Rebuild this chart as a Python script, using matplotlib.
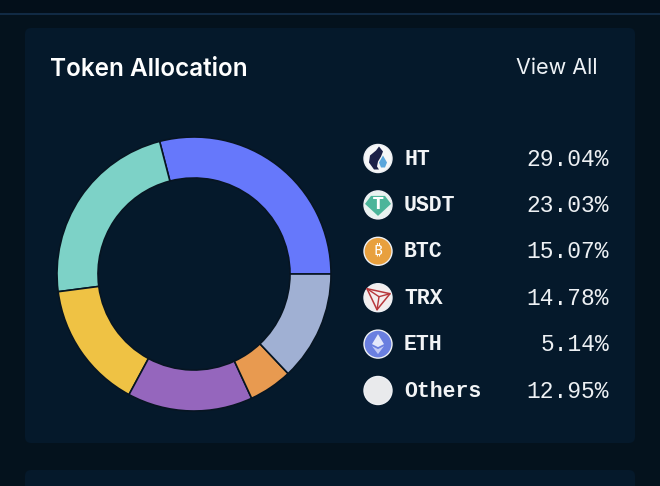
import matplotlib
matplotlib.use("Agg")
import matplotlib.pyplot as plt
from matplotlib.patches import Circle, FancyBboxPatch, Polygon, Rectangle

tokens = ["HT", "USDT", "BTC", "TRX", "ETH", "Others"]
shares = [29.04, 23.03, 15.07, 14.78, 5.14, 12.95]
share_labels = ["29.04%", "23.03%", "15.07%", "14.78%", "5.14%", "12.95%"]
colors = ["#6678fb", "#7dd2c7", "#efc244", "#9566bd", "#e89a50", "#a0b0d3"]

W, H = 660, 486
page = "#04121d"
panel = "#05192b"

fig = plt.figure(figsize=(W / 100, H / 100), dpi=100, facecolor=page)

# whole figure in pixels, y going down, for the card and the text
bg = fig.add_axes([0, 0, 1, 1])
bg.set_xlim(0, W)
bg.set_ylim(H, 0)
bg.axis("off")

bg.add_patch(Rectangle((0, 0), W, 13, fc="#030f1a", ec="none"))
bg.plot([0, W], [14, 14], color="#14304c", lw=1.2)

for y0, y1 in [(28, 443), (470, 500)]:
    bg.add_patch(FancyBboxPatch((29, y0 + 4), 602, y1 - y0 - 8,
                                boxstyle="round,pad=4,rounding_size=6",
                                fc=panel, ec="none"))

bg.text(50, 69, "Token Allocation", color="white", fontsize=17.5, weight="semibold",
        family="Inter", va="center", ha="left")
bg.text(598, 67.5, "View All", color="#eef2f6", fontsize=15.5, family="Inter",
        va="center", ha="right")

# donut
cx, cy, r = 194, 274, 137
ax = fig.add_axes([(cx - r) / W, 1 - (cy + r) / H, 2 * r / W, 2 * r / H])
ax.pie(shares, colors=colors, startangle=0, counterclock=True, radius=1,
       wedgeprops=dict(width=41 / 137, edgecolor="#071522", linewidth=1.2))
ax.set_xlim(-1, 1)
ax.set_ylim(-1, 1)
ax.set_aspect("equal")
ax.patch.set_alpha(0)


def icon_ht(x, y):
    bg.add_patch(Polygon([(x - 4, y + 11), (x - 9, y + 4), (x - 8, y - 3), (x - 2, y - 8), (x + 1, y - 12),
                          (x + 5, y - 7), (x + 3, y - 2), (x, y + 3), (x - 1, y + 8), (x + 1, y + 11)],
                         closed=True, fc="#1c2148", ec="none", zorder=4))
    bg.add_patch(Polygon([(x + 5, y - 3), (x + 9, y + 4), (x + 7, y + 9), (x + 3, y + 9), (x + 1, y + 4)],
                         closed=True, fc="#5aa6dc", ec="none", zorder=4))


def icon_usdt(x, y):
    bg.add_patch(Polygon([(x - 7, y - 9), (x + 7, y - 9), (x + 13, y - 1), (x, y + 11), (x - 13, y - 1)],
                         closed=True, fc="#4cb59a", ec="none", zorder=4))
    bg.text(x, y, "T", color="white", fontsize=11, weight="bold", ha="center", va="center", zorder=5)


def icon_btc(x, y):
    bg.text(x, y, "\u20bf", color="white", fontsize=11, weight="bold", ha="center", va="center", zorder=5,
            family=["Noto Sans", "Roboto", "Open Sans", "Inter", "Lato", "Liberation Sans", "DejaVu Sans"])


def icon_trx(x, y):
    bg.add_patch(Polygon([(x - 11, y - 9), (x + 12, y - 4), (x - 1, y + 12)],
                         closed=True, fc="none", ec="#b8383c", lw=1.1, zorder=4))
    bg.plot([x - 11, x + 1, x - 1], [y - 9, y - 1, y + 12], color="#b8383c", lw=1, zorder=4)
    bg.plot([x + 1, x + 12], [y - 1, y - 4], color="#b8383c", lw=1, zorder=4)


def icon_eth(x, y):
    bg.add_patch(Polygon([(x, y - 10), (x + 6, y), (x, y + 3), (x - 6, y)],
                         closed=True, fc="#e4e8fb", ec="none", zorder=4))
    bg.add_patch(Polygon([(x - 6, y + 2), (x, y + 5), (x + 6, y + 2), (x, y + 10)],
                         closed=True, fc="#c3cbf6", ec="none", zorder=4))


icon_fill = ["#f6f7f8", "#e9f3f0", "#e8a03e", "#f3eeee", "#6a7fe0", "#e9eaec"]
icon_draw = [icon_ht, icon_usdt, icon_btc, icon_trx, icon_eth, None]

# legend rows
for i, name in enumerate(tokens):
    y = 158.5 + i * 46.4
    bg.add_patch(Circle((378, y), 14, fc=icon_fill[i], ec="#eef0f4", lw=1, zorder=3))
    if icon_draw[i]:
        icon_draw[i](378, y)
    bg.text(404, y + 0.5, name, color="#f2f4f6", fontsize=15.5, weight="bold",
            family="Liberation Mono", va="center", ha="left")
    bg.text(609, y + 0.5, share_labels[i], color="#eef1f4", fontsize=16.5,
            family="Liberation Mono", va="center", ha="right")

fig.savefig("out.png", dpi=100, facecolor=page)
